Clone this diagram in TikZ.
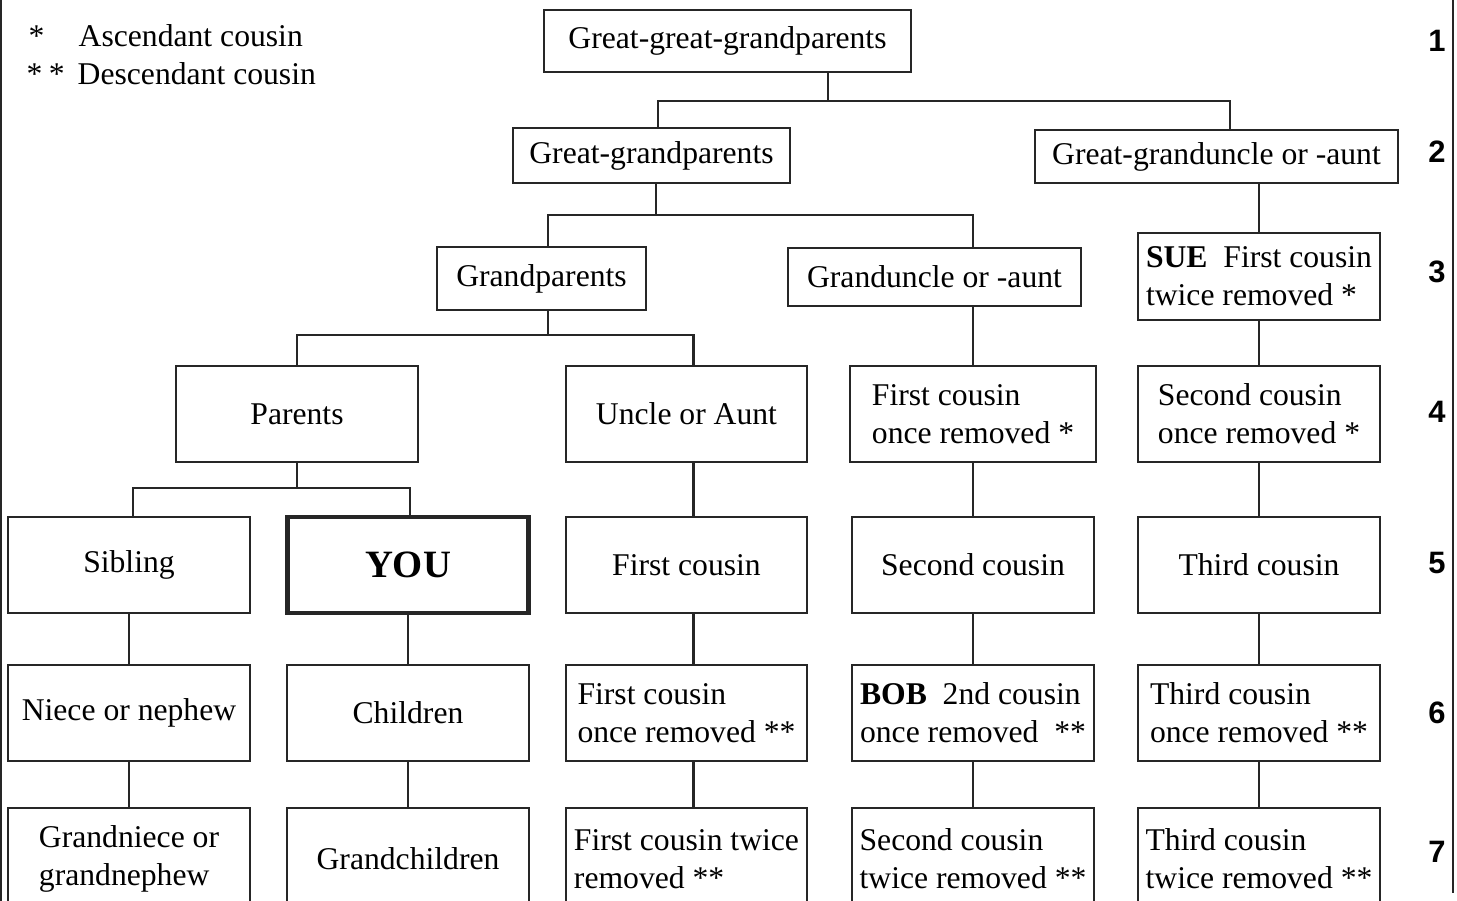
\documentclass[tikz,border=0pt]{standalone}
\usepackage{fontspec}
\setmainfont{Liberation Serif}
\setsansfont{Liberation Sans}
\usetikzlibrary{calc}

\begin{document}
\begin{tikzpicture}[x=0.01cm, y=-0.01cm,
    every node/.style={inner sep=0pt, font=\fontsize{9}{10.8}\selectfont},
    box/.style={draw=black!85, line width=0.6pt, align=left, minimum width=2.41cm, minimum height=0.96cm},
    youbox/.style={box, line width=1.3pt, font=\fontsize{11}{13}\selectfont\bfseries},
    link/.style={draw=black!85, line width=0.6pt},
    level/.style={font=\fontsize{8.8}{10}\selectfont\sffamily\bfseries}]
    \useasboundingbox (0, 0) rectangle (1457, 901);
    \clip (0, 0) rectangle (1457, 901);

    % legend
    \node[anchor=base west](astA) at (28, 47){*};
    \node[anchor=base west](ascA) at (78, 47){Ascendant cousin};
    \node[anchor=base west](astD) at (26, 85){*\hspace{0.2em}*};
    \node[anchor=base west](ascD) at (77, 85){Descendant cousin};

    % generations 1-3
    \node[box, minimum width=3.67cm, minimum height=0.62cm](ggg) at (727.5, 41){Great-great-grandparents};
    \node[box, minimum width=2.77cm, minimum height=0.55cm](ggp) at (651.5, 155.5){Great-grandparents};
    \node[box, minimum width=3.63cm, minimum height=0.53cm](ggu) at (1216.5, 156.5){Great-granduncle or -aunt};
    \node[box, minimum width=2.09cm, minimum height=0.63cm](gp) at (541.5, 278.5){Grandparents};
    \node[box, minimum width=2.93cm, minimum height=0.58cm](gua) at (934.5, 277){Granduncle or -aunt};
    \node[box, minimum height=0.87cm](sue) at (1259, 276.5){\textbf{SUE}\enspace First cousin\\twice removed *};

    % generation 4
    \node[box](par) at (297, 414){Parents};
    \node[box](unc) at (686.5, 414){Uncle or Aunt};
    \node[box, minimum width=2.46cm](fcor) at (973, 414){First cousin\\once removed *};
    \node[box](scor) at (1259, 414){Second cousin\\once removed *};

    % generation 5
    \node[box](sib) at (129, 565){Sibling};
    \node[youbox](you) at (408, 565){YOU};
    \node[box](fc) at (686.5, 565){First cousin};
    \node[box, minimum width=2.42cm](sc) at (973, 565){Second cousin};
    \node[box](tc) at (1259, 565){Third cousin};

    % generation 6
    \node[box](niece) at (129, 713){Niece or nephew};
    \node[box](kids) at (408, 713){Children};
    \node[box](fcor2) at (686.5, 713){First cousin\\once removed **};
    \node[box, minimum width=2.42cm](bob) at (973, 713){\textbf{BOB}\enspace 2nd cousin\\once removed\enspace **};
    \node[box](tcor2) at (1259, 713){Third cousin\\once removed **};

    % generation 7
    \node[box, minimum height=1.02cm](gniece) at (129, 859){Grandniece or\\grandnephew};
    \node[box, minimum height=1.02cm](gkids) at (408, 859){Grandchildren};
    \node[box, minimum height=1.02cm](fctr) at (686.5, 859){First cousin twice\\removed **};
    \node[box, minimum width=2.42cm, minimum height=1.02cm](sctr) at (973, 859){Second cousin\\twice removed **};
    \node[box, minimum height=1.02cm](tctr) at (1259, 859){Third cousin\\twice removed **};

    % generation numbers
    \foreach \n/\y in {1/41, 2/152, 3/272, 4/412, 5/563, 6/713, 7/852}
      \node[level](lv\n) at (1437, \y){\n};

    % sibling brackets
    \coordinate (j1) at (828, 101);
    \coordinate (j2) at (656, 215);
    \coordinate (j3) at (548, 335);
    \coordinate (j4) at (297, 488);

    \draw[link] (j1 |- ggg.south) -- (j1);
    \draw[link] ($(ggp.north)+(6.5,0)$) |- (j1) -| ($(ggu.north)+(13.5,0)$);
    \draw[link] (j2 |- ggp.south) -- (j2);
    \draw[link] ($(gp.north)+(6.5,0)$) |- (j2) -| (fcor.north |- gua.north);
    \draw[link] (j3 |- gp.south) -- (j3);
    \draw[link] (par.north) |- (j3) -| ($(unc.north)+(7,0)$);
    \draw[link] (par.south) -- (j4);
    \draw[link] ($(sib.north)+(4,0)$) |- (j4) -| ($(you.north)+(2,0)$);

    % descent lines
    \draw[link] (ggu.south -| sue.north) -- (sue.north);
    \draw[link] (gua.south -| fcor.north) -- (fcor.north);
    \foreach \a/\b in {sue/scor, scor/tc, tc/tcor2, tcor2/tctr, fcor/sc, sc/bob, bob/sctr, sib/niece, niece/gniece, you/kids, kids/gkids}
      \draw[link] (\a.south) -- (\b.north);
    \foreach \a/\b in {unc/fc, fc/fcor2, fcor2/fctr}
      \draw[link] ($(\a.south)+(7,0)$) -- ($(\b.north)+(7,0)$);

    % page edges
    \draw[link] (1, 0) -- (1, 901);
    \draw[link] (1453, 0) -- (1453, 893);
  \end{tikzpicture}
\end{document}
